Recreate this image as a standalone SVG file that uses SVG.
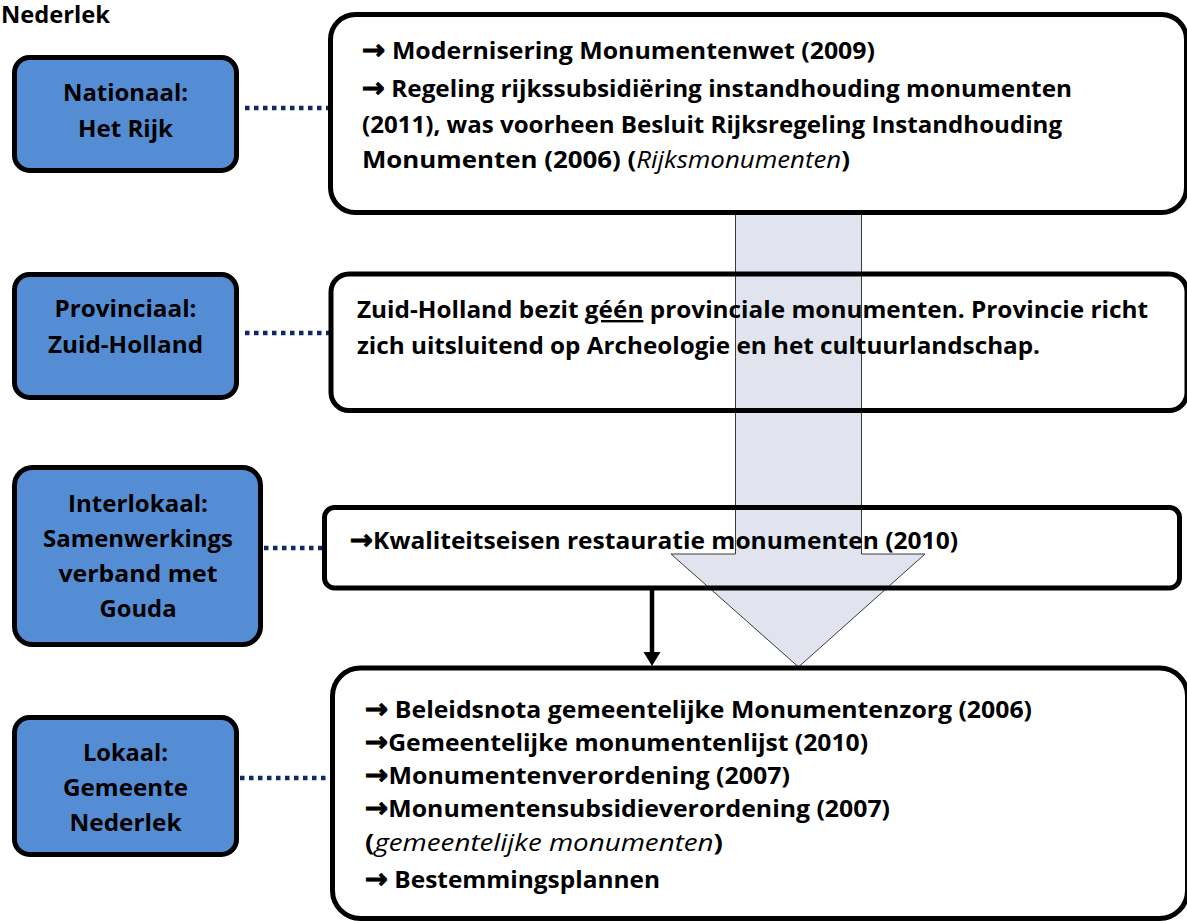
<svg xmlns="http://www.w3.org/2000/svg" width="1187" height="921" viewBox="0 0 1187 921">
  <style>
    text { font-family: "Open Sans", "Noto Sans", "DejaVu Sans", sans-serif; font-weight: 700; font-size: 24px; fill: #000; }
    .lvl { text-anchor: middle; }
    .it { font-style: italic; font-weight: 400; }
    .ar { font-family: "DejaVu Sans", sans-serif; font-weight: 700; font-size: 27px; stroke: #000; stroke-width: 0.9; }
    .level { fill: #548DD4; stroke: #000; stroke-width: 5; }
    .panel { fill: none; stroke: #000; stroke-width: 5; }
    .dots { fill: none; stroke: #0F2A62; stroke-width: 4.5; stroke-dasharray: 4.5 4.5; }
  </style>

  <text x="1" y="23" textLength="109" lengthAdjust="spacingAndGlyphs">Nederlek</text>

  <!-- connectors: flow arrow, dotted links, arrow between panels -->
  <g id="connectors">
    <polygon points="735.5,213 861.5,213 861.5,554 925,554 798.5,667 671,554 735.5,554" fill="#E1E4EE" stroke="#3A3A3A" stroke-width="1"/>
    <line class="dots" x1="245" y1="108" x2="330" y2="108"/>
    <line class="dots" x1="245" y1="333" x2="330" y2="333"/>
    <line class="dots" x1="264" y1="548" x2="322" y2="548"/>
    <line class="dots" x1="240" y1="778" x2="330" y2="778"/>
    <line x1="652" y1="590" x2="652" y2="655" stroke="#000" stroke-width="4.5"/>
    <polygon points="643.5,652 660.5,652 652,666" fill="#000"/>
  </g>

  <!-- government levels -->
  <g id="level-nationaal">
    <rect class="level" x="14.5" y="57.5" width="222" height="113" rx="15"/>
    <text class="lvl" x="125.5" y="101" textLength="125" lengthAdjust="spacingAndGlyphs">Nationaal:</text>
    <text class="lvl" x="125.5" y="137" textLength="95" lengthAdjust="spacingAndGlyphs">Het Rijk</text>
  </g>
  <g id="level-provinciaal">
    <rect class="level" x="14.5" y="274.5" width="222" height="123" rx="15"/>
    <text class="lvl" x="125.5" y="317" textLength="142" lengthAdjust="spacingAndGlyphs">Provinciaal:</text>
    <text class="lvl" x="125.5" y="353" textLength="155" lengthAdjust="spacingAndGlyphs">Zuid-Holland</text>
  </g>
  <g id="level-interlokaal">
    <rect class="level" x="14.5" y="467.5" width="246" height="177" rx="18"/>
    <text class="lvl" x="138" y="512" textLength="140" lengthAdjust="spacingAndGlyphs">Interlokaal:</text>
    <text class="lvl" x="138" y="547" textLength="190" lengthAdjust="spacingAndGlyphs">Samenwerkings</text>
    <text class="lvl" x="138" y="582" textLength="159" lengthAdjust="spacingAndGlyphs">verband met</text>
    <text class="lvl" x="138" y="617" textLength="77" lengthAdjust="spacingAndGlyphs">Gouda</text>
  </g>
  <g id="level-lokaal">
    <rect class="level" x="14.5" y="717.5" width="222" height="137" rx="15"/>
    <text class="lvl" x="125.5" y="761" textLength="85" lengthAdjust="spacingAndGlyphs">Lokaal:</text>
    <text class="lvl" x="125.5" y="796" textLength="125" lengthAdjust="spacingAndGlyphs">Gemeente</text>
    <text class="lvl" x="125.5" y="831" textLength="112" lengthAdjust="spacingAndGlyphs">Nederlek</text>
  </g>

  <!-- regulations per level -->
  <g id="panel-rijk">
    <rect class="panel" x="330.5" y="14.5" width="856" height="198" rx="25"/>
    <text x="362" y="59" textLength="513" lengthAdjust="spacingAndGlyphs"><tspan class="ar">→</tspan> Modernisering Monumentenwet (2009)</text>
    <text x="362" y="97" textLength="710" lengthAdjust="spacingAndGlyphs"><tspan class="ar">→</tspan> Regeling rijkssubsidiëring instandhouding monumenten</text>
    <text x="362" y="133" textLength="700" lengthAdjust="spacingAndGlyphs">(2011), was voorheen Besluit Rijksregeling Instandhouding</text>
    <text x="362" y="168" textLength="488" lengthAdjust="spacingAndGlyphs">Monumenten (2006) (<tspan class="it">Rijksmonumenten</tspan>)</text>
  </g>
  <g id="panel-provincie">
    <rect class="panel" x="331" y="274" width="856" height="136.5" rx="18"/>
    <text x="357" y="318" textLength="791" lengthAdjust="spacingAndGlyphs">Zuid-Holland bezit <tspan text-decoration="underline">géén</tspan> provinciale monumenten. Provincie richt</text>
    <text x="357" y="354" textLength="683" lengthAdjust="spacingAndGlyphs">zich uitsluitend op Archeologie en het cultuurlandschap.</text>
  </g>
  <g id="panel-interlokaal">
    <rect class="panel" x="324.5" y="507.5" width="855" height="80.5" rx="10"/>
    <text x="350" y="549" textLength="608" lengthAdjust="spacingAndGlyphs"><tspan class="ar">→</tspan>Kwaliteitseisen restauratie monumenten (2010)</text>
  </g>
  <g id="panel-gemeente">
    <rect class="panel" x="332.5" y="668" width="855" height="250.5" rx="28"/>
    <text x="365" y="718" textLength="667" lengthAdjust="spacingAndGlyphs"><tspan class="ar">→</tspan> Beleidsnota gemeentelijke Monumentenzorg (2006)</text>
    <text x="365" y="751" textLength="503" lengthAdjust="spacingAndGlyphs"><tspan class="ar">→</tspan>Gemeentelijke monumentenlijst (2010)</text>
    <text x="365" y="784" textLength="425" lengthAdjust="spacingAndGlyphs"><tspan class="ar">→</tspan>Monumentenverordening (2007)</text>
    <text x="365" y="817" textLength="525" lengthAdjust="spacingAndGlyphs"><tspan class="ar">→</tspan>Monumentensubsidieverordening (2007)</text>
    <text x="365" y="851" textLength="358" lengthAdjust="spacingAndGlyphs">(<tspan class="it">gemeentelijke monumenten</tspan>)</text>
    <text x="365" y="888" textLength="295" lengthAdjust="spacingAndGlyphs"><tspan class="ar">→</tspan> Bestemmingsplannen</text>
  </g>
</svg>
